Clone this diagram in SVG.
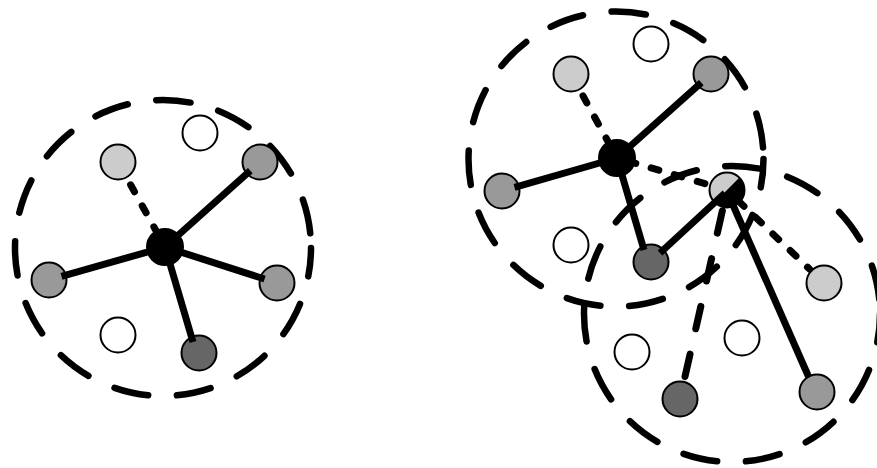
<svg xmlns="http://www.w3.org/2000/svg" width="877" height="468" viewBox="0 0 877 468">
<style>
.ring{fill:none;stroke:#000;stroke-width:6.5;stroke-linecap:round;stroke-dasharray:34.5 28.8;stroke-dashoffset:5.95}
.node{stroke:#000;stroke-width:2}
.lg{fill:#cccccc}.md{fill:#999999}.dk{fill:#666666}.wh{fill:#ffffff}.hub{fill:#000}
.e{stroke:#000;stroke-width:7;fill:none}
.d{stroke:#000;stroke-width:7;fill:none;stroke-linecap:round;stroke-dasharray:8 16}
.dl{stroke:#000;stroke-width:7;fill:none;stroke-linecap:round;stroke-dasharray:23 26}
</style>
<rect width="877" height="468" fill="#fff"/>
<g id="ranges">
<circle id="range-left" class="ring" cx="163" cy="248" r="148"/>
<circle id="range-upper" class="ring" cx="616" cy="159" r="147.5"/>
<circle id="range-lower" class="ring" cx="732" cy="314" r="148"/>
</g>
<g id="nodes">
<g id="L-hub"><circle class="node hub" cx="165" cy="247" r="18"/></g>
<g id="L-lg"><circle class="node lg" cx="118" cy="162" r="17.5"/></g>
<g id="L-wt"><circle class="node wh" cx="200" cy="133" r="17.5"/></g>
<g id="L-tr"><circle class="node md" cx="260" cy="162" r="17.5"/></g>
<g id="L-l"><circle class="node md" cx="49" cy="280" r="17.5"/></g>
<g id="L-r"><circle class="node md" cx="277" cy="283" r="17.5"/></g>
<g id="L-wb"><circle class="node wh" cx="118" cy="335" r="17.5"/></g>
<g id="L-dk"><circle class="node dk" cx="199" cy="353" r="17.5"/></g>

<g id="R-hub"><circle class="node hub" cx="617" cy="158" r="18"/></g>
<g id="R-lg"><circle class="node lg" cx="571" cy="74" r="17.5"/></g>
<g id="R-wt"><circle class="node wh" cx="651" cy="44" r="17.5"/></g>
<g id="R-tr"><circle class="node md" cx="711" cy="74" r="17.5"/></g>
<g id="R-l"><circle class="node md" cx="502" cy="191" r="17.5"/></g>
<g id="R-wl"><circle class="node wh" cx="571" cy="245" r="17.5"/></g>
<g id="R-dk"><circle class="node dk" cx="651" cy="262" r="17.5"/></g>
<g id="R-half">
<path fill="#cccccc" d="M714.6 202.4 A17.5 17.5 0 0 1 739.4 177.6 Z"/>
<path fill="#000" d="M739.4 177.6 A17.5 17.5 0 0 1 714.6 202.4 Z"/>
<circle class="node" fill="none" cx="727" cy="190" r="17.5"/>
</g>
<g id="R-lgr"><circle class="node lg" cx="824" cy="283" r="17.5"/></g>
<g id="R-wm"><circle class="node wh" cx="742" cy="338" r="17.5"/></g>
<g id="R-wbl"><circle class="node wh" cx="632" cy="352" r="17.5"/></g>
<g id="R-dkb"><circle class="node dk" cx="680" cy="399" r="17.5"/></g>
<g id="R-br"><circle class="node md" cx="817" cy="392" r="17.5"/></g>
</g>
<g id="connectors">
<line class="d" x1="130.6" y1="184.8" x2="165" y2="247"/>
<line class="e" x1="165" y1="247" x2="250.3" y2="170.7"/>
<line class="e" x1="165" y1="247" x2="61.5" y2="276.4"/>
<line class="e" x1="165" y1="247" x2="264.6" y2="279"/>
<line class="e" x1="165" y1="247" x2="193" y2="342"/>

<line class="d" x1="583" y1="95.9" x2="617" y2="158"/>
<line class="e" x1="617" y1="158" x2="701.3" y2="82.7"/>
<line class="e" x1="617" y1="158" x2="514.5" y2="187.4"/>
<line class="e" x1="617" y1="158" x2="644" y2="250"/>
<line class="d" x1="704.9" y1="183.6" x2="617" y2="158"/>
<line class="e" x1="660" y1="253" x2="725" y2="193"/>
<line class="d" x1="738.2" y1="200.7" x2="809.5" y2="269"/>
<line class="dl" x1="685" y1="376.6" x2="723.3" y2="206.6"/>
<line class="e" x1="808.5" y1="376.5" x2="729" y2="196"/>
</g>
</svg>
